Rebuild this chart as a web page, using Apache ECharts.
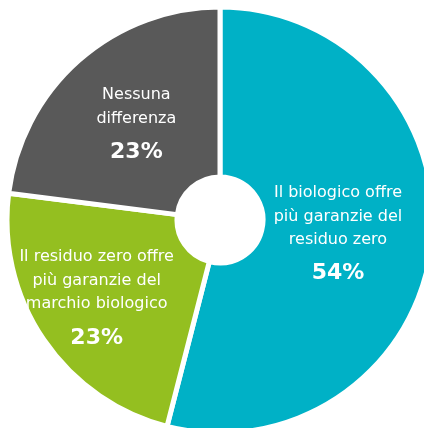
<!DOCTYPE html>
<html>
<head>
<meta charset="utf-8">
<script src="https://cdn.jsdelivr.net/npm/echarts@6/dist/echarts.min.js"></script>
<style>
  html, body { margin: 0; padding: 0; background: #fff; }
  #chart { width: 424px; height: 428px; }
</style>
</head>
<body>
<div id="chart"></div>
<script>
// answers (clockwise from 12 o'clock)
var categories = [
  "Il biologico offre\npiù garanzie del\nresiduo zero",
  "Il residuo zero offre\npiù garanzie del\nmarchio biologico",
  "Nessuna\ndifferenza"
];
var values = [54, 23, 23];
var colors = ["#00b1c6", "#94bf20", "#595959"];

// small nudges so the labels sit where the original has them
var labelShift = [[-12, 2], [-15, 9], [3, 7]];

var myChart = echarts.init(document.getElementById("chart"));

var option = {
  backgroundColor: "#fff",
  animation: false,
  series: [
    {
      type: "pie",
      center: [220, 220],
      radius: [43, 213],
      startAngle: 90,
      clockwise: true,
      itemStyle: {
        borderColor: "#fff",
        borderWidth: 5
      },
      label: {
        show: true,
        position: "inside",
        formatter: function (p) {
          return "{t|" + p.name + "}\n{p|" + p.value + "%}";
        },
        rich: {
          t: {
            color: "#fff",
            fontFamily: "DejaVu Sans",
            fontSize: 16,
            lineHeight: 23.5,
            align: "center"
          },
          p: {
            color: "#fff",
            fontFamily: "DejaVu Sans",
            fontWeight: "bold",
            fontSize: 22,
            lineHeight: 44,
            align: "center"
          }
        }
      },
      labelLine: { show: false },
      labelLayout: function (params) {
        var s = labelShift[params.dataIndex];
        return { dx: s[0], dy: s[1] };
      },
      emphasis: { disabled: true },
      data: categories.map(function (c, i) {
        return { name: c, value: values[i], itemStyle: { color: colors[i] } };
      })
    }
  ]
};

myChart.setOption(option);
window.onresize = function () {
  myChart.resize();
};
</script>
</body>
</html>
